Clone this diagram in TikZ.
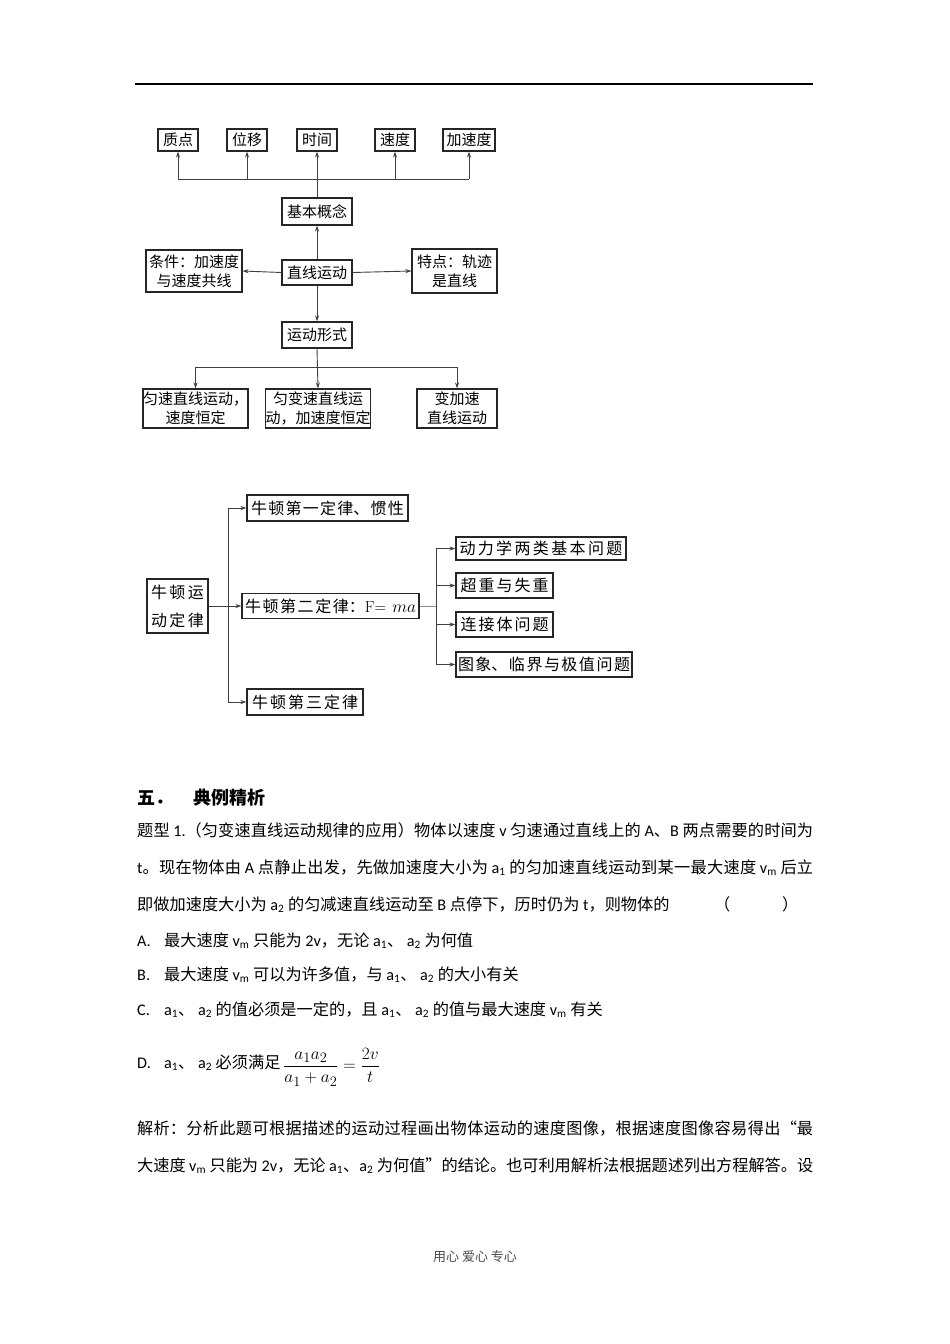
\documentclass[tikz,border=0pt]{standalone}
\usepackage{fontspec}
\setmainfont{Noto Sans CJK SC}
\newfontfamily\lat{Carlito}
\newfontfamily\lmr{Latin Modern Roman}
\usetikzlibrary{arrows.meta}
\XeTeXlinebreaklocale "zh"
\XeTeXlinebreakskip=0pt plus 6pt minus 0.6pt
\newcommand\Lt[1]{{\lat #1}}
\newcommand\spr[2]{\parbox[b]{#1}{\parindent=0pt\parfillskip=0pt\rightskip=0pt\leftskip=0pt\tolerance=10000\relax #2}}
\tikzset{
  bx/.style={draw=black!85, line width=1.1pt, inner sep=0pt, font=\fontsize{15}{19}\selectfont, align=center},
  bxb/.style={draw=black!85, line width=1.1pt, inner sep=0pt, font=\fontsize{16}{26}\selectfont, align=center},
  ln/.style={draw=black!75, line width=0.9pt},
  arr/.style={ln, -{Stealth[length=6pt,width=4pt]}},
  body/.style={anchor=base west, inner sep=0pt, font=\fontsize{16.2}{20}\selectfont},
}
\begin{document}
\begin{tikzpicture}[x=1pt,y=-1pt]
\useasboundingbox[fill=white] (0,0) rectangle (950,1344);
% header rule
\draw[line width=1.5pt] (135,84) -- (813,84);

% ---------- diagram 1 ----------
\node[bx, minimum width=40pt, minimum height=22pt] (zd) at (178,140) {质点};
\node[bx, minimum width=40pt, minimum height=22pt] (wy) at (247,140) {位移};
\node[bx, minimum width=40pt, minimum height=22pt] (sj) at (317,140) {时间};
\node[bx, minimum width=40pt, minimum height=22pt] (sd) at (395,140) {速度};
\node[bx, minimum width=52pt, minimum height=22pt] (jsd) at (469,140) {加速度};
\node[bx, minimum width=70pt, minimum height=27pt] (jbgn) at (317,211.5) {基本概念};
\node[bx, minimum width=70pt, minimum height=25pt] (zxyd) at (317,272.5) {直线运动};
\node[bx, minimum width=96pt, minimum height=42pt] (tj) at (194,271) {条件：加速度\\与速度共线};
\node[bx, minimum width=85pt, minimum height=44pt] (td) at (454.5,271) {特点：轨迹\\是直线};
\node[bx, minimum width=70pt, minimum height=26pt] (ydxs) at (317,335) {运动形式};
\node[bx, minimum width=105pt, minimum height=39pt] (b1) at (195.5,408.5) {匀速直线运动，\\速度恒定};
\node[bx, minimum width=105pt, minimum height=39pt] (b2) at (318,408.5) {匀变速直线运\\动，加速度恒定};
\node[bx, minimum width=80pt, minimum height=39pt] (b3) at (457,408.5) {变加速\\直线运动};

\coordinate (hb) at (0,179);
\draw[ln] (zd.south |- hb) -- (jsd.south |- hb);
\foreach \n in {zd,wy,sd,jsd} \draw[arr] (\n.south |- hb) -- (\n.south);
\draw[arr] (jbgn.north) -- (sj.south);
\draw[arr] (zxyd.north) -- (jbgn.south);
\draw[arr] (zxyd.west) -- (tj.east);
\draw[arr] (zxyd.east) -- (td.west);
\draw[arr] (zxyd.south) -- (ydxs.north);
\coordinate (hb2) at (0,367);
\draw[ln] (b1.north |- hb2) -- (b3.north |- hb2);
\draw[arr] (ydxs.south) -- (b2.north);
\draw[arr] (b1.north |- hb2) -- (b1.north);
\draw[arr] (b3.north |- hb2) -- (b3.north);

% ---------- diagram 2 ----------
\node[bxb, minimum width=61pt, minimum height=54pt] (nl) at (177.5,606) {\spr{53pt}{牛顿运}\\[2pt]\spr{53pt}{动定律}};
\node[bxb, minimum width=161pt, minimum height=26pt] (n1) at (327.5,508) {\spr{153pt}{牛顿第一定律、惯性}};
\node[bxb, minimum width=177pt, minimum height=25pt] (n2) at (330.5,606) {\spr{171pt}{牛顿第二定律：{\lmr F=}\hskip 6pt plus 1pt$ma$}};
\node[bxb, minimum width=116pt, minimum height=26pt] (n3) at (305,702) {\spr{106pt}{牛顿第三定律}};
\node[bxb, minimum width=170pt, minimum height=23pt] (r1) at (541,548.5) {\spr{163pt}{动力学两类基本问题}};
\node[bxb, minimum width=97pt, minimum height=25pt] (r2) at (504.5,585.5) {\spr{88pt}{超重与失重}};
\node[bxb, minimum width=97pt, minimum height=25pt] (r3) at (504.5,624.5) {\spr{88pt}{连接体问题}};
\node[bxb, minimum width=176pt, minimum height=25pt] (r4) at (544,664.5) {\spr{172pt}{图象、临界与极值问题}};

\coordinate (va) at (228,0);
\draw[ln] (va |- n1.west) -- (va |- n3.west);
\draw[arr] (va |- n1.west) -- (n1.west);
\draw[arr] (va |- n3.west) -- (n3.west);
\draw[arr] (nl.east) -- (n2.west);
\coordinate (vb) at (436,0);
\draw[ln, draw=black!45] (n2.east) -- (vb |- n2.east);
\draw[ln] (vb |- r1.west) -- (vb |- r4.west);
\foreach \r in {r1,r2,r3,r4} \draw[arr] (vb |- \r.west) -- (\r.west);

% ---------- text ----------
\node[body, font=\fontsize{18}{20}\selectfont\bfseries] (h1) at (137,804) {五．};
\node[body, font=\fontsize{18}{20}\selectfont\bfseries] (h2) at (193,804) {典例精析};

\node[body] (l1) at (137,836) {\spr{676pt}{题型 \Lt{1.}（匀变速直线运动规律的应用）物体以速度 \Lt{v} 匀速通过直线上的 \Lt{A}、\Lt{B} 两点需要的时间为}};
\node[body] (l2) at (137,873) {\spr{676pt}{\Lt{t}。现在物体由 \Lt{A} 点静止出发，先做加速度大小为 \Lt{a\textsubscript{1}} 的匀加速直线运动到某一最大速度 \Lt{v\textsubscript{m}} 后立}};
\node[body] (l3) at (137,910) {即做加速度大小为 \Lt{a\textsubscript{2}} 的匀减速直线运动至 \Lt{B} 点停下，历时仍为 \Lt{t}，则物体的};
\node[body] (p1) at (714,910) {（};
\node[body] (p2) at (782,910) {）};

\node[body] (oa) at (137,946) {\Lt{A.}};
\node[body] (ta) at (164,946) {最大速度 \Lt{v\textsubscript{m}} 只能为 \Lt{2v}，无论 \Lt{a\textsubscript{1}}、 \Lt{a\textsubscript{2}} 为何值};
\node[body] (ob) at (137,980) {\Lt{B.}};
\node[body] (tb) at (164,980) {最大速度 \Lt{v\textsubscript{m}} 可以为许多值，与 \Lt{a\textsubscript{1}}、 \Lt{a\textsubscript{2}} 的大小有关};
\node[body] (oc) at (137,1015) {\Lt{C.}};
\node[body] (tc) at (164,1015) {\Lt{a\textsubscript{1}}、 \Lt{a\textsubscript{2}} 的值必须是一定的，且 \Lt{a\textsubscript{1}}、 \Lt{a\textsubscript{2}} 的值与最大速度 \Lt{v\textsubscript{m}} 有关};
\node[body] (od) at (137,1068) {\Lt{D.}};
\node[body] (td2) at (164,1068) {\Lt{a\textsubscript{1}}、 \Lt{a\textsubscript{2}} 必须满足};
\node[anchor=west, inner sep=0pt, font=\fontsize{19}{22}\selectfont] (eq) at (283,1067) {$\displaystyle\frac{a_1a_2}{a_1+a_2}=\frac{2v}{t}$};

\node[body] (j1) at (137,1134) {\spr{676pt}{解析：分析此题可根据描述的运动过程画出物体运动的速度图像，根据速度图像容易得出“最}};
\node[body] (j2) at (137,1171) {\spr{676pt}{大速度 \Lt{v\textsubscript{m}} 只能为 \Lt{2v}，无论 \Lt{a\textsubscript{1}}、\Lt{a\textsubscript{2}} 为何值”的结论。也可利用解析法根据题述列出方程解答。设}};

\node[inner sep=0pt, font=\fontsize{13}{15}\selectfont, text=black!70] (ft) at (475,1257) {用心\ 爱心\ 专心};
\end{tikzpicture}
\end{document}
